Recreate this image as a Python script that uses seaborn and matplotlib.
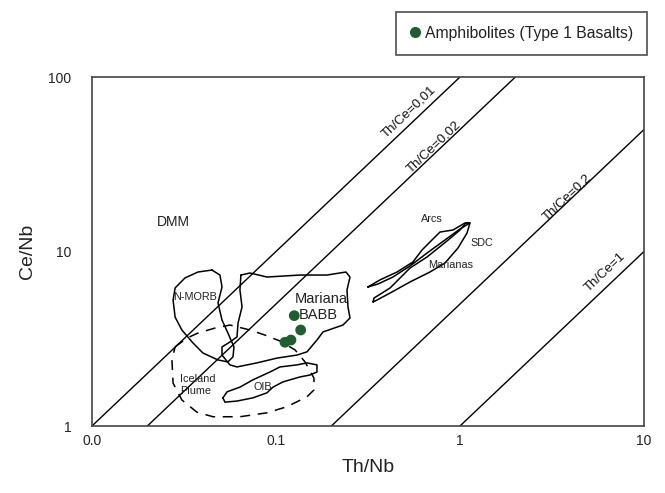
import numpy as np
import pandas as pd
import matplotlib
matplotlib.use("Agg")
import matplotlib.pyplot as plt
import seaborn as sns

# ---------------- data ----------------
sample_th_nb = [0.1257, 0.1362, 0.1206, 0.1119]
sample_ce_nb = [4.29, 3.55, 3.11, 3.02]

thce_ratios = [0.01, 0.02, 0.2, 1.0]
thce_labels = ["Th/Ce=0,01", "Th/Ce=0,02", "Th/Ce=0,2", "Th/Ce=1"]
thce_label_x = [0.528, 0.722, 3.815, 6.14]
thce_label_y = [63.0, 39.7, 20.5, 7.63]

nmorb_x = [0.0449, 0.0496, 0.0509, 0.0484, 0.0509, 0.0548, 0.0591, 0.0584, 0.0548,
           0.0484, 0.0401, 0.0354, 0.0308, 0.0283, 0.0276, 0.0283, 0.0320, 0.0377]
nmorb_y = [7.83, 7.33, 6.26, 5.07, 4.05, 3.41, 2.84, 2.49, 2.33,
           2.39, 2.62, 2.99, 3.55, 4.21, 5.27, 6.18, 7.05, 7.63]

babb_x = [0.0645, 0.0722, 0.0894, 0.1350, 0.1893, 0.2401, 0.2525, 0.2432, 0.2462,
          0.2525, 0.2313, 0.1801, 0.1670, 0.1474, 0.1301, 0.1013, 0.0788, 0.0614,
          0.0562, 0.0509, 0.0509, 0.0562, 0.0614, 0.0622, 0.0654, 0.0637]
babb_y = [7.33, 7.53, 7.14, 7.33, 7.33, 7.63, 7.14, 6.02, 4.81,
          4.16, 3.79, 3.46, 3.11, 2.66, 2.55, 2.45, 2.30, 2.18,
          2.24, 2.55, 2.84, 3.03, 3.24, 3.89, 4.81, 6.02]

iceland_x = [0.0283, 0.0328, 0.0377, 0.0466, 0.0562, 0.0722, 0.0871, 0.1051, 0.1269,
             0.1438, 0.1609, 0.1609, 0.1474, 0.1148, 0.0894, 0.0637, 0.0455, 0.0372,
             0.0308, 0.0276, 0.0272]
iceland_y = [2.84, 3.19, 3.41, 3.64, 3.79, 3.55, 3.32, 3.07, 2.73,
             2.33, 1.88, 1.61, 1.47, 1.29, 1.19, 1.13, 1.13, 1.20,
             1.41, 1.76, 2.39]

oib_x = [0.0515, 0.0542, 0.0637, 0.0750, 0.0928, 0.1051, 0.1301, 0.1474, 0.1670,
         0.1670, 0.1530, 0.1350, 0.1092, 0.0963, 0.0894, 0.0750, 0.0614, 0.0528]
oib_y = [1.45, 1.57, 1.67, 1.84, 2.04, 2.18, 2.24, 2.30, 2.24,
         2.04, 1.96, 1.91, 1.79, 1.67, 1.55, 1.45, 1.39, 1.37]

arcs_x = [0.316, 0.367, 0.455, 0.555, 0.622, 0.687, 0.779, 0.916, 1.065, 1.133,
          1.000, 0.829, 0.662, 0.535, 0.432, 0.358]
arcs_y = [6.26, 6.87, 7.63, 8.71, 10.20, 11.34, 12.93, 13.28, 14.57, 14.57,
          13.46, 11.64, 9.80, 8.26, 7.14, 6.51]

marianas_x = [0.337, 0.341, 0.417, 0.535, 0.662, 0.850, 1.000, 1.078, 1.133, 1.092,
              0.975, 0.829, 0.687, 0.535, 0.427, 0.354]
marianas_y = [5.14, 5.41, 6.18, 8.04, 9.30, 11.49, 13.28, 14.57, 14.57, 12.76,
              10.47, 8.59, 7.63, 6.69, 5.86, 5.27]

field_labels = ["DMM", "N-MORB", "Mariana", "BABB", "Iceland\nPlume", "OIB", "Arcs", "SDC", "Marianas"]
field_label_x = [0.0276, 0.0363, 0.1756, 0.1692, 0.0301, 0.0850, 0.704, 1.317, 0.8935]
field_label_y = [14.76, 5.49, 5.34, 4.33, 1.72, 1.67, 15.36, 11.19, 8.37]

x_ticks = [0.01, 0.1, 1, 10]
x_ticklabels = ["0.0", "0.1", "1", "10"]
y_ticks = [1, 10, 100]
y_ticklabels = ["1", "10", "100"]

# ---------------- style ----------------
sns.set_theme(style="white")
plt.rcParams["font.family"] = ["Liberation Sans", "DejaVu Sans"]

axis_col = "#444444"
green = "#1f5e2e"

fig = plt.figure(figsize=(6.65, 4.93), dpi=100)
ax = fig.add_axes([0.1383, 0.1359, 0.8301, 0.7079])
ax.set_xscale("log")
ax.set_yscale("log")
ax.set_xlim(0.01, 10)
ax.set_ylim(1, 100)

# Th/Ce reference lines
for r, lab, lx, ly in zip(thce_ratios, thce_labels, thce_label_x, thce_label_y):
    xs = np.array([r, min(10.0, 100.0 * r)])
    ax.plot(xs, xs / r, color="black", lw=1.0, zorder=2)
    ax.text(lx, ly, lab, rotation=43.5, rotation_mode="anchor", ha="center", va="center",
            fontsize=9.5, color="#111111")

# fields
def outline(xs, ys, **kw):
    xs = list(xs) + [xs[0]]
    ys = list(ys) + [ys[0]]
    ax.plot(xs, ys, color="black", lw=1.1, solid_joinstyle="round", zorder=3, **kw)

outline(nmorb_x, nmorb_y)
outline(babb_x, babb_y)
outline(oib_x, oib_y)
outline(arcs_x, arcs_y)
outline(marianas_x, marianas_y)
outline(iceland_x, iceland_y, dashes=(6.5, 5.0))

sizes = {"DMM": 10, "Mariana": 10.5, "BABB": 10.5}
for lab, lx, ly in zip(field_labels, field_label_x, field_label_y):
    fs = sizes.get(lab, 7.8)
    ha = "left" if lab.startswith("Iceland") else "center"
    ax.text(lx, ly, lab, fontsize=fs, ha=ha, va="center", color="#222222",
            linespacing=1.25, zorder=4)

# samples
df = pd.DataFrame({"Th/Nb": sample_th_nb, "Ce/Nb": sample_ce_nb,
                   "group": "Amphibolites (Type 1 Basalts)"})
sns.scatterplot(data=df, x="Th/Nb", y="Ce/Nb", hue="group", palette=[green],
                s=60, edgecolor="none", ax=ax, zorder=5, legend=False)

# axes styling
ax.set_xticks(x_ticks)
ax.set_xticklabels(x_ticklabels)
ax.set_yticks(y_ticks)
ax.set_yticklabels(y_ticklabels)
ax.minorticks_off()
ax.tick_params(axis="both", which="major", direction="out", length=5, width=1.0,
               color=axis_col, labelsize=10, labelcolor="#222222")
ax.tick_params(axis="x", pad=0.5)
ax.tick_params(axis="y", pad=10)
for sp in ax.spines.values():
    sp.set_color(axis_col)
    sp.set_linewidth(1.2)
ax.set_xlabel("Th/Nb", fontsize=14, color="#222222", labelpad=8)
ax.set_ylabel("Ce/Nb", fontsize=14, color="#222222", labelpad=9)

# legend
handle = plt.Line2D([], [], marker="o", linestyle="none", markersize=8,
                    markerfacecolor=green, markeredgecolor="none")
leg = fig.legend([handle], ["Amphibolites (Type 1 Basalts)"], loc="upper right",
                 bbox_to_anchor=(0.973, 0.976), fontsize=11.3, frameon=True,
                 fancybox=False, borderpad=0.9, handletextpad=0.35,
                 handlelength=0.6, borderaxespad=0)
leg.get_frame().set_edgecolor("#333333")
leg.get_frame().set_linewidth(1.3)
for t in leg.get_texts():
    t.set_color("#222222")

fig.savefig("out.png", dpi=100)
